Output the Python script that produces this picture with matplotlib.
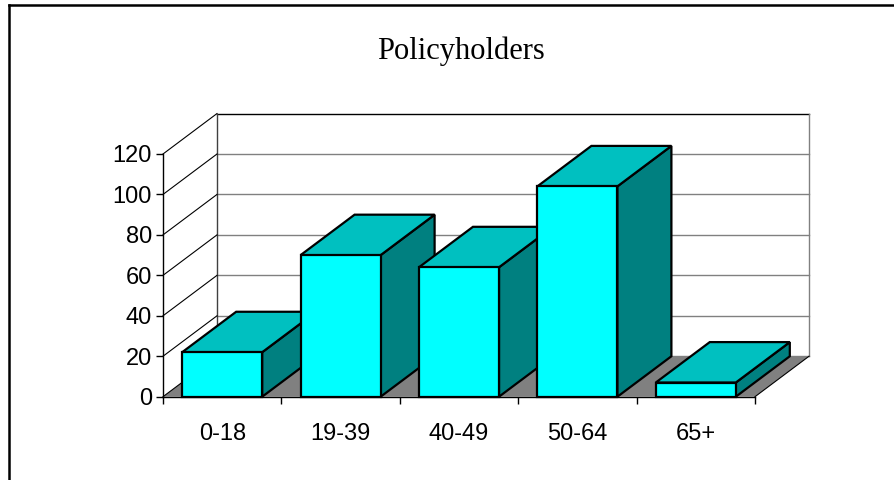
import matplotlib
matplotlib.use("Agg")
import matplotlib.pyplot as plt
from matplotlib.patches import Polygon
from matplotlib.lines import Line2D
from matplotlib import font_manager

# Chart data
categories = ["0-18", "19-39", "40-49", "50-64", "65+"]
policyholders = [22, 70, 64, 104, 7]
y_ticks = [0, 20, 40, 60, 80, 100, 120]
title = "Policyholders"

names = {f.name for f in font_manager.fontManager.ttflist}
LABEL_FONT = "Liberation Sans Narrow" if "Liberation Sans Narrow" in names else "Liberation Sans"
LABEL_SIZE = 20 if LABEL_FONT == "Liberation Sans Narrow" else 17

W, H = 895, 480
fig = plt.figure(figsize=(W / 100, H / 100), dpi=100)
fig.patch.set_facecolor("white")

# Axes spans the front plane of the 3-D box
ax = fig.add_axes([163 / W, (H - 396.7) / H, 592 / W, 242.7 / H])
n = len(categories)
ymax = y_ticks[-1]
ax.set_xlim(0, n)
ax.set_ylim(0, ymax)
ax.patch.set_visible(False)

# Oblique depth offset, expressed in data units
depth_x = 0.456
depth_y = 20
bar_w = 0.676

FRONT = "#00FFFF"
TOP = "#00C0C0"
SIDE = "#008080"
FLOOR = "#808080"
GRID = "#808080"

# Floor
ax.add_patch(Polygon([(0, 0), (n, 0), (n + depth_x, depth_y), (depth_x, depth_y)],
                     closed=True, fc=FLOOR, ec="none", clip_on=False, zorder=1))
ax.plot([n, n + depth_x], [0, depth_y], color="black", lw=0.8, clip_on=False, zorder=1.1)

# Back wall gridlines and side-wall diagonals
for v in y_ticks:
    col = "black" if v == ymax else GRID
    ax.plot([depth_x, n + depth_x], [v + depth_y] * 2, color=col, lw=1.0,
            clip_on=False, zorder=0.5)
    ax.plot([0, depth_x], [v, v + depth_y], color="black", lw=0.8,
            clip_on=False, zorder=1.2)
ax.plot([depth_x, depth_x], [depth_y, ymax + depth_y], color="#404040", lw=1.0,
        clip_on=False, zorder=0.6)
ax.plot([n + depth_x, n + depth_x], [depth_y, ymax + depth_y], color=GRID, lw=1.0,
        clip_on=False, zorder=0.6)

# 3-D bars, drawn left to right so each one overlaps the previous side face
for i, v in enumerate(policyholders):
    x0 = i + 0.5 - bar_w / 2
    x1 = i + 0.5 + bar_w / 2
    z = 3 + i
    kw = dict(closed=True, ec="black", lw=1.6, joinstyle="miter", clip_on=False, zorder=z)
    ax.add_patch(Polygon([(x1, 0), (x1 + depth_x, depth_y), (x1 + depth_x, v + depth_y), (x1, v)],
                         fc=SIDE, **kw))
    ax.add_patch(Polygon([(x0, v), (x1, v), (x1 + depth_x, v + depth_y), (x0 + depth_x, v + depth_y)],
                         fc=TOP, **kw))
    ax.add_patch(Polygon([(x0, 0), (x1, 0), (x1, v), (x0, v)], fc=FRONT, **kw))

# Axes lines and ticks
for s in ("top", "right"):
    ax.spines[s].set_visible(False)
for s in ("left", "bottom"):
    ax.spines[s].set_color("black")
    ax.spines[s].set_linewidth(1.0)
    ax.spines[s].set_zorder(2)

ax.set_xticks([i + 0.5 for i in range(n)])
ax.set_xticklabels(categories)
ax.set_xticks(range(n + 1), minor=True)
ax.tick_params(axis="x", which="major", length=0, pad=19, labelsize=LABEL_SIZE)
ax.tick_params(axis="x", which="minor", length=5, width=1, direction="out", color="black")
ax.set_yticks(y_ticks)
ax.tick_params(axis="y", length=5, width=1, direction="out", pad=3, labelsize=LABEL_SIZE)
for lab in ax.get_xticklabels() + ax.get_yticklabels():
    lab.set_family(LABEL_FONT)

# Title
fig.text(461 / W, 1 - 51 / H, title, ha="center", va="center",
         family="Liberation Serif", fontsize=22)

# Chart frame
fig.add_artist(Line2D([8.5 / W, 1], [1 - 5 / H] * 2, transform=fig.transFigure,
                      color="black", lw=1.8))
fig.add_artist(Line2D([8.5 / W] * 2, [0, 1 - 5 / H], transform=fig.transFigure,
                      color="black", lw=1.8))

fig.savefig("out.png", dpi=100)
